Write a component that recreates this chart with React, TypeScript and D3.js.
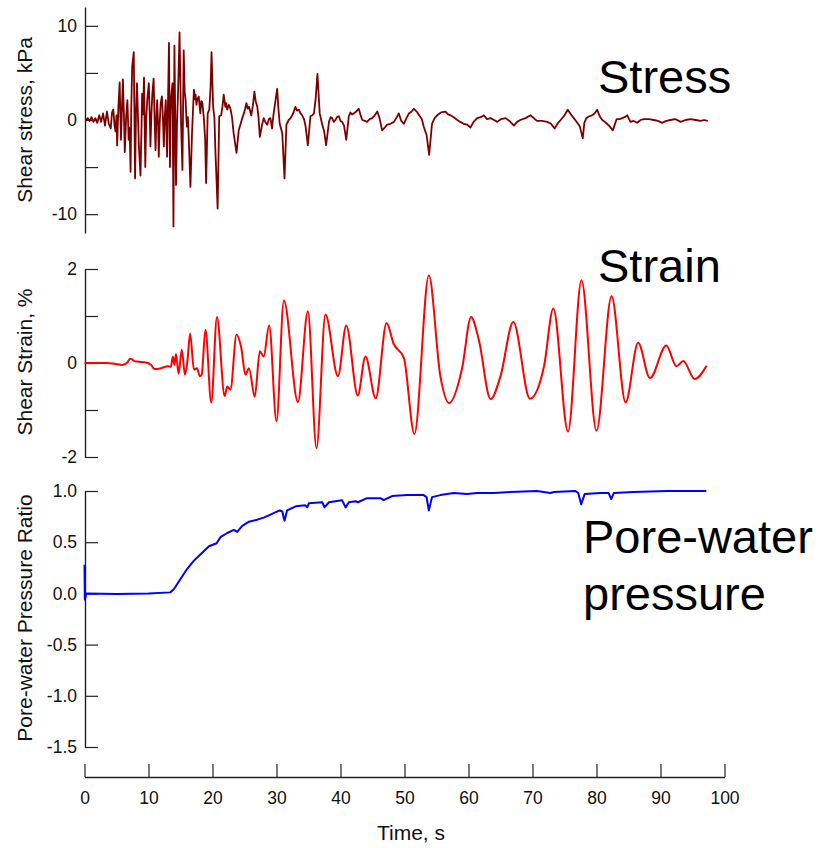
import React, { useRef, useEffect } from 'react';
import * as d3 from 'd3';

type Pt = [number, number];

// time (s), shear stress (kPa)
const stressData: Pt[] = [
  [0.2, 0], [0.5, 0.2], [0.8, -0.1], [1.1, 0.3], [1.4, -0.2], [1.7, 0.2], [2.0, -0.3], [2.3, 0.5], [2.6, -0.2],
  [2.9, 0.7], [3.2, -0.6], [3.5, 0.9], [3.8, -0.4], [4.1, -0.9], [4.3, 0.8], [4.5, 1.1], [4.7, -0.6], [4.85, -1.2],
  [5.0, 0.5], [5.1, -2.7], [5.3, 1.5], [5.5, 4.0], [5.6, 0.5], [5.7, -2.1], [5.85, 1.2], [6.0, 4.3], [6.15, 0.8],
  [6.3, -3.4], [6.5, 0.3], [6.7, 2.1], [6.9, -2.1], [7.05, -0.8], [7.2, -5.5], [7.3, 1.0], [7.45, 5.7],
  [7.7, 7.2], [7.8, 0.5], [7.9, -6.2], [8.05, 0.8], [8.2, 3.9], [8.35, 0.5], [8.5, -2.8], [8.75, -5.9],
  [8.9, -1.0], [9.0, 2.8], [9.15, 0.6], [9.3, 4.5], [9.4, -0.8], [9.5, -5.0], [9.65, 0.2], [9.8, 2.1],
  [10.05, 3.9], [10.2, 0.3], [10.3, -2.8], [10.45, 0.5], [10.6, 2.8], [10.8, 4.4], [10.95, 0.2], [11.1, -3.2],
  [11.25, 0.6], [11.35, 2.1], [11.5, -0.5], [11.6, -3.9], [11.75, -0.4], [11.9, 1.8], [12.1, 2.5], [12.25, 0.3],
  [12.4, -2.8], [12.55, 0.4], [12.7, 2.1], [12.8, -0.6], [12.9, -3.9], [13.05, 2.0], [13.2, 8.2], [13.35, -5.0],
  [13.45, 0.5], [13.55, 2.5], [13.75, 3.9], [13.9, -11.3], [14.05, 7.9], [14.3, -6.9], [14.45, -0.5], [14.6, 2.5],
  [14.85, 9.3], [15.1, -0.7], [15.3, -5.3], [15.5, 7.4], [15.65, 3.0], [15.8, 2.1], [15.9, 0.5], [16.0, -0.7],
  [16.15, 0.3], [16.3, -2.1], [16.55, -7.1], [16.8, -1.4], [16.95, 1.0], [17.1, 3.2], [17.25, 2.2], [17.35, 2.7],
  [17.5, 1.6], [17.6, 2.1], [17.85, 2.5], [18.1, 0.7], [18.25, 2.0], [18.4, 1.9], [18.65, 0.2], [18.85, -2.0],
  [19.0, -6.7], [19.25, 0.7], [19.5, 1.1], [19.7, 3.5], [19.85, 7.2], [20.1, 1.4], [20.3, 0.2], [20.45, -3.2],
  [20.8, -9.4], [21.05, 0.4], [21.35, 0.5], [21.55, 1.4], [21.75, 2.7], [22.0, 1.4], [22.15, 1.8], [22.3, 1.1],
  [22.55, 1.6], [22.8, 1.2], [23.05, 0.3], [23.3, -1.4], [23.75, -3.5], [24.1, -1.1], [24.4, -0.4], [24.65, 0.2],
  [24.9, 0.7], [25.1, 1.2], [25.3, 1.8], [25.5, 1.2], [25.7, 1.4], [26.05, 0.5], [26.3, 1.5], [26.55, 3.0],
  [26.75, 2.0], [27.0, 1.4], [27.2, 0.2], [27.4, -1.8], [27.75, -0.5], [28.0, 0.2], [28.25, -0.2], [28.55, -0.5],
  [28.8, 0.1], [29.05, 0.2], [29.3, -0.9], [29.5, 0.4], [29.7, 1.4], [30.1, 3.3], [30.3, 1.2], [30.5, -0.4],
  [30.9, -1.4], [31.25, -6.2], [31.55, -0.5], [31.9, 0], [32.2, 0.2], [32.45, 0.5], [32.7, 0.9], [32.95, 1.4],
  [33.2, 1.0], [33.5, 1.1], [33.75, 0.7], [34.0, 0.5], [34.3, 0.1], [34.55, -0.7], [34.9, -2.7], [35.3, 0.4],
  [35.6, 0.5], [35.85, 0.7], [36.1, 2.1], [36.4, 4.9], [36.75, 0.7], [37.15, -0.5], [37.45, -1.2],
  [37.75, -2.7], [38.2, -0.2], [38.45, 0.3], [38.7, 0.2], [38.95, -0.2], [39.2, 0], [39.45, 0.3], [39.75, 0.4],
  [40.0, -0.1], [40.25, -0.2], [40.55, -0.6], [40.9, -2.1], [41.3, 0.4], [41.55, 0.8], [41.8, 0.6], [42.1, 0.7],
  [42.45, 0.9], [42.85, 1.2], [43.1, 0.6], [43.4, 0], [43.8, -0.1], [44.15, -0.2], [44.55, 0.1], [44.95, 0.2],
  [45.35, 0.5], [45.75, 0.9], [46.1, 0.2], [46.5, -1.1], [46.9, -0.8], [47.3, -0.5], [47.8, -0.4], [48.35, -0.2],
  [48.7, 0.2], [49.1, 0.7], [49.5, -0.1], [49.9, -0.4], [50.3, 0.2], [50.7, 0.7], [51.1, 0.9], [51.45, 1.2],
  [51.9, 0.9], [52.4, 0.4], [52.7, 0.1], [53.0, -0.7], [53.45, -1.6], [53.85, -3.7], [54.3, -0.4], [54.7, 0.2],
  [55.1, 0.5], [55.7, 0.8], [56.4, 0.9], [56.8, 0.6], [57.2, 0.5], [57.7, 0.3], [58.25, 0], [58.7, -0.2],
  [59.25, -0.4], [59.8, -0.5], [60.3, -0.8], [60.8, -0.2], [61.35, 0.2], [61.9, 0.3], [62.4, 0.5], [62.9, 0.1],
  [63.45, 0.2], [64.0, 0], [64.5, -0.2], [65.1, 0.1], [65.8, 0.2], [66.4, -0.1], [67.1, -0.6], [67.6, -0.2],
  [68.1, 0], [68.9, 0.2], [69.7, 0.5], [70.2, 0.2], [70.7, -0.1], [71.5, -0.1], [72.3, -0.2], [72.9, -0.4],
  [73.45, -0.9], [74.0, -0.3], [74.4, 0], [75.0, 0.5], [75.5, 1.1], [76.0, 0.6], [76.45, 0.2], [77.0, -0.3],
  [77.4, -0.7], [77.85, -1.95], [78.1, -0.3], [78.4, 0.2], [78.9, 0.4], [79.3, 0.5], [79.7, 0.7], [80.1, 1.1],
  [80.5, 0.4], [80.9, 0], [81.3, -0.2], [81.65, -0.4], [82.1, -0.7], [82.55, -1.1], [83.15, 0.1], [83.6, 0.1],
  [84.0, 0.2], [84.4, 0.3], [84.8, 0.5], [85.3, -0.2], [85.8, -0.1], [86.35, -0.3], [86.9, 0], [87.4, 0.1],
  [88.2, 0.1], [88.95, 0], [89.6, -0.1], [90.25, -0.3], [90.9, -0.1], [91.55, 0], [92.3, 0.1], [93.15, -0.2],
  [93.9, 0], [94.7, 0.1], [95.5, 0], [96.25, -0.1], [96.8, 0], [97.4, -0.1],
];

// time (s), shear strain (%)
const strainData: Pt[] = [
  [0, 0], [3.5, 0], [4.8, -0.02], [5.9, -0.04], [6.7, 0.01], [7.1, 0.09], [7.3, 0.085], [7.8, 0.04], [8.3, 0.03],
  [9.6, 0.01], [10.4, -0.04], [10.9, -0.13], [12.0, -0.11], [13.0, -0.07], [13.5, -0.08], [13.8, 0.14],
  [14.05, -0.04], [14.3, 0.19], [14.7, -0.23], [15.2, 0.28], [15.7, -0.25], [16.1, 0.07], [16.5, 0.63],
  [17.1, -0.14], [17.6, -0.11], [18.0, -0.28], [18.3, -0.25], [18.9, 0.71], [19.8, -0.84], [20.7, 0.98],
  [21.9, -0.7], [22.3, -0.5], [22.8, -0.57], [23.75, 0.6], [24.5, 0.32], [25.15, -0.25], [25.7, -0.11],
  [26.6, -0.72], [27.4, 0.25], [28.0, 0.14], [28.85, 0.8], [30.0, -1.24], [31.15, 1.33], [33.35, -0.83],
  [34.9, 1.1], [36.25, -1.81], [37.65, 1.03], [39.6, -0.28], [40.9, 0.8], [42.7, -0.69], [43.9, 0.14],
  [45.5, -0.75], [47.2, 0.85], [48.3, 0.41], [49.9, 0.11], [51.55, -1.51], [53.8, 1.86], [55.6, -0.28],
  [56.95, -0.85], [59.0, -0.11], [60.4, 0.98], [61.6, 0.5], [63.45, -0.77], [65.0, -0.28], [67.0, 0.87],
  [69.6, -0.76], [71.8, -0.07], [73.25, 1.16], [75.55, -1.46], [77.65, 1.76], [80.0, -1.44], [82.35, 1.42],
  [84.55, -0.84], [86.5, 0.43], [88.35, -0.32], [90.9, 0.37], [92.5, -0.07], [93.55, 0.04], [95.35, -0.34],
  [97.2, -0.06],
];

// time (s), pore-water pressure ratio
const poreData: Pt[] = [
  [0, 0.28], [0.05, -0.06], [0.3, 0], [5, -0.005], [10, 0], [13.4, 0.01], [13.95, 0.04], [15.0, 0.14],
  [16.05, 0.24], [17.1, 0.32], [18.1, 0.38], [19.45, 0.46], [20.65, 0.49], [21.25, 0.55], [22.3, 0.59],
  [23.35, 0.62], [23.85, 0.6], [24.65, 0.66], [25.7, 0.7], [27.0, 0.72], [28.0, 0.74], [29.05, 0.77],
  [30.5, 0.81], [30.9, 0.8], [31.25, 0.71], [31.65, 0.81], [33.0, 0.85], [34.5, 0.86], [34.8, 0.84],
  [35.05, 0.88], [37.15, 0.89], [37.5, 0.84], [38.2, 0.89], [40.25, 0.91], [40.8, 0.84], [41.3, 0.89],
  [42.35, 0.9], [42.7, 0.89], [44.15, 0.93], [46.25, 0.93], [46.75, 0.91], [48.05, 0.95], [50.4, 0.96],
  [53.0, 0.96], [53.45, 0.94], [53.8, 0.81], [54.3, 0.94], [55.6, 0.96], [57.7, 0.98], [59.8, 0.97],
  [61.35, 0.98], [64.0, 0.98], [66.55, 0.99], [70.7, 1.0], [72.8, 0.98], [73.35, 0.99], [76.7, 1.0],
  [77.15, 0.98], [77.6, 0.87], [78.15, 0.97], [80.6, 0.98], [81.9, 0.98], [82.3, 0.92], [82.7, 0.98],
  [85.8, 0.99], [91.0, 1.0], [97.15, 1.0],
];

const timeTicks = [0, 10, 20, 30, 40, 50, 60, 70, 80, 90, 100];
const stressTicks = [-10, -5, 0, 5, 10];
const stressLabels = [-10, 0, 10];
const strainTicks = [-2, -1, 0, 1, 2];
const strainLabels = [-2, 0, 2];
const poreTicks = [-1.5, -1.0, -0.5, 0, 0.5, 1.0];

const FONT = '"Liberation Sans", Arial, Helvetica, sans-serif';
const AXIS = '#222';

export default function App() {
  const svgRef = useRef<SVGSVGElement>(null);
  const width = 819;
  const height = 848;

  useEffect(() => {
    const svg = d3.select(svgRef.current);
    svg.selectAll('*').remove();

    const x = d3.scaleLinear().domain([0, 100]).range([84.5, 724.5]);
    const axisX = 85;

    const panels = [
      {
        data: stressData, domain: [-12, 12], range: [233, 7], ticks: stressTicks,
        fmt: (d: number) => (stressLabels.includes(d) ? String(d) : ''),
        color: '#7d0000', lw: 1.8, curve: d3.curveLinear,
        title: 'Shear stress, kPa', titleY: 120,
        note: ['Stress'], noteX: 598, noteY: 93,
      },
      {
        data: strainData, domain: [-2, 2], range: [457, 269], ticks: strainTicks,
        fmt: (d: number) => (strainLabels.includes(d) ? String(d) : ''),
        color: '#ff0000', lw: 2, curve: d3.curveMonotoneX,
        title: 'Shear Strain, %', titleY: 362,
        note: ['Strain'], noteX: 598, noteY: 282,
      },
      {
        data: poreData, domain: [-1.5, 1], range: [747, 491], ticks: poreTicks,
        fmt: (d: number) => d.toFixed(1),
        color: '#0000ff', lw: 2, curve: d3.curveLinear,
        title: 'Pore-water Pressure Ratio', titleY: 618,
        note: ['Pore-water', 'pressure'], noteX: 583, noteY: 553,
      },
    ];

    panels.forEach(p => {
      const y = d3.scaleLinear().domain(p.domain).range(p.range);

      const ax = svg.append('g')
        .attr('transform', `translate(${axisX},0)`)
        .call(
          d3.axisLeft(y)
            .tickValues(p.ticks)
            .tickFormat(p.fmt as any)
            .tickSizeInner(-13)
            .tickSizeOuter(0)
            .tickPadding(8)
        );
      ax.select('.domain').attr('stroke', AXIS).attr('stroke-width', 1.4);
      ax.selectAll('.tick line').attr('stroke', AXIS).attr('stroke-width', 1.2);
      ax.selectAll('.tick text')
        .attr('fill', '#111')
        .style('font-family', FONT)
        .style('font-size', '17.5px');

      const line = d3.line<Pt>()
        .x(d => x(d[0]))
        .y(d => y(d[1]))
        .curve(p.curve);

      svg.append('path')
        .datum(p.data)
        .attr('fill', 'none')
        .attr('stroke', p.color)
        .attr('stroke-width', p.lw)
        .attr('stroke-linejoin', 'round')
        .attr('d', line);

      svg.append('text')
        .attr('transform', `translate(32,${p.titleY}) rotate(-90)`)
        .attr('text-anchor', 'middle')
        .style('font-family', FONT)
        .style('font-size', '21px')
        .attr('fill', '#111')
        .text(p.title);

      p.note.forEach((s, i) => {
        svg.append('text')
          .attr('x', p.noteX)
          .attr('y', p.noteY + i * 57)
          .style('font-family', FONT)
          .style('font-size', '47px')
          .attr('fill', '#000')
          .text(s);
      });
    });

    const xa = svg.append('g')
      .attr('transform', 'translate(0,777)')
      .call(
        d3.axisBottom(x)
          .tickValues(timeTicks)
          .tickFormat(d => String(d))
          .tickSizeInner(-13)
          .tickSizeOuter(0)
          .tickPadding(15)
      );
    xa.select('.domain').attr('stroke', AXIS).attr('stroke-width', 1.4);
    xa.selectAll('.tick line').attr('stroke', AXIS).attr('stroke-width', 1.2);
    xa.selectAll('.tick text')
      .attr('fill', '#111')
      .style('font-family', FONT)
      .style('font-size', '17.5px');

    svg.append('text')
      .attr('x', 411)
      .attr('y', 840)
      .attr('text-anchor', 'middle')
      .style('font-family', FONT)
      .style('font-size', '21px')
      .attr('fill', '#111')
      .text('Time, s');
  }, []);

  return (
    <svg
      ref={svgRef}
      width={width}
      height={height}
      viewBox={`0 0 ${width} ${height}`}
      style={{ position: 'absolute', left: 0, top: 0, display: 'block', background: '#fff' }}
    />
  );
}
